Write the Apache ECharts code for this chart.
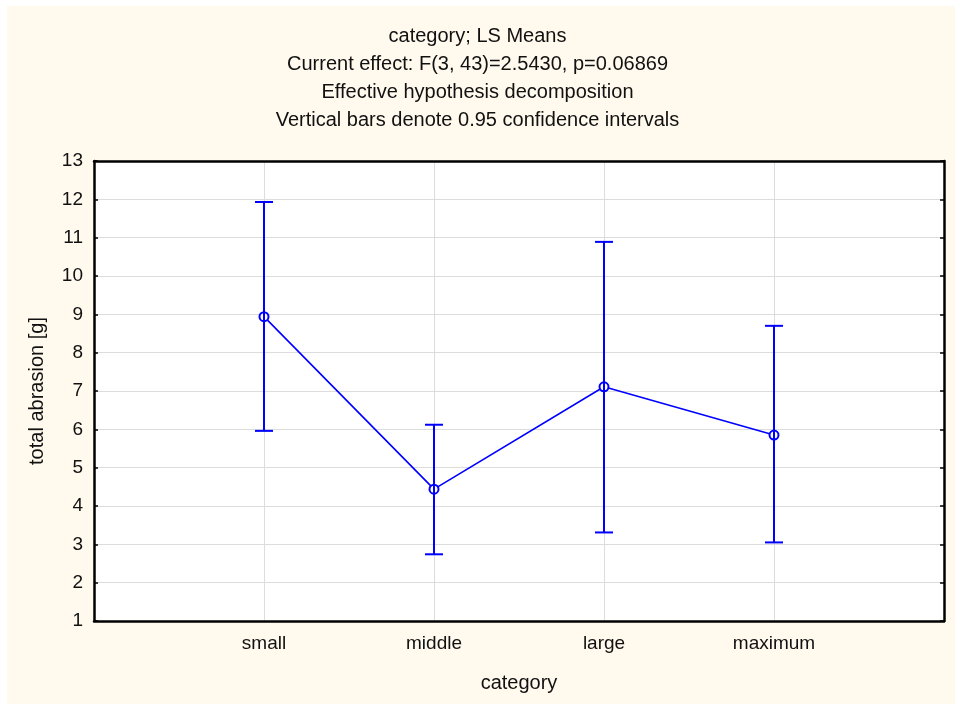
<!DOCTYPE html>
<html>
<head>
<meta charset="utf-8">
<title>category; LS Means</title>
<script src="https://cdn.jsdelivr.net/npm/echarts@6/dist/echarts.min.js"></script>
<style>
  html, body { margin: 0; padding: 0; background: #ffffff; }
  #chart { width: 955px; height: 704px; }
</style>
</head>
<body>
<div id="chart"></div>
<script>
// LS means of total abrasion per category, with 0.95 confidence limits
const categories = ['small', 'middle', 'large', 'maximum'];
const means = [8.94, 4.44, 7.11, 5.85];
const lowerCI = [5.96, 2.74, 3.31, 3.05];
const upperCI = [11.93, 6.12, 10.89, 8.70];
const yTicks = { min: 1, max: 13, interval: 1 };

const titleLines = [
  'category; LS Means',
  'Current effect: F(3, 43)=2.5430, p=0.06869',
  'Effective hypothesis decomposition',
  'Vertical bars denote 0.95 confidence intervals'
];

const FONT = '"Liberation Sans", Arial, sans-serif';
const BLUE = '#0000ff';
const TEXT = '#111111';

const meanPoints = means.map((m, i) => [i + 1, m]);
const ciPoints = categories.map((c, i) => [i + 1, lowerCI[i], upperCI[i]]);

const frameLine = { show: true, onZero: false, lineStyle: { color: '#000', width: 2.5 } };
const innerTick = { show: true, inside: true, length: 4, lineStyle: { color: '#000', width: 1.5 } };

const chart = echarts.init(document.getElementById('chart'), null, { renderer: 'canvas' });

chart.setOption({
  backgroundColor: '#ffffff',
  animation: false,
  graphic: [{
    type: 'rect',
    left: 7, top: 6,
    shape: { width: 948, height: 698 },
    style: { fill: '#fff9ee' },
    z: -10
  }],
  title: {
    text: titleLines.join('\n'),
    left: 'center',
    top: 17,
    textStyle: {
      fontFamily: FONT,
      fontSize: 20,
      fontWeight: 'normal',
      color: TEXT,
      lineHeight: 28
    }
  },
  grid: {
    left: 94, right: 11, top: 161, bottom: 83,
    show: true,
    backgroundColor: '#ffffff',
    borderWidth: 0
  },
  xAxis: [{
    type: 'value',
    position: 'bottom',
    min: 0, max: categories.length + 1, interval: 1,
    name: 'category',
    nameLocation: 'middle',
    nameGap: 52,
    nameTextStyle: { fontFamily: FONT, fontSize: 20, color: TEXT },
    axisLine: frameLine,
    axisTick: { show: false },
    axisLabel: {
      margin: 13,
      fontFamily: FONT, fontSize: 19, color: TEXT,
      formatter: v => categories[v - 1] || ''
    },
    splitLine: { show: true, lineStyle: { color: '#dcdcdc', width: 1 } }
  }, {
    type: 'value',
    position: 'top',
    min: 0, max: categories.length + 1, interval: 1,
    axisLine: frameLine,
    axisTick: { show: false },
    axisLabel: { show: false },
    splitLine: { show: false }
  }],
  yAxis: [{
    type: 'value',
    position: 'left',
    min: yTicks.min, max: yTicks.max, interval: yTicks.interval,
    name: 'total abrasion [g]',
    nameLocation: 'middle',
    nameGap: 47,
    nameTextStyle: { fontFamily: FONT, fontSize: 20, color: TEXT },
    axisLine: frameLine,
    axisTick: innerTick,
    axisLabel: { margin: 11, fontFamily: FONT, fontSize: 19, color: TEXT },
    splitLine: { show: true, lineStyle: { color: '#dcdcdc', width: 1 } }
  }, {
    type: 'value',
    position: 'right',
    min: yTicks.min, max: yTicks.max, interval: yTicks.interval,
    axisLine: frameLine,
    axisTick: innerTick,
    axisLabel: { show: false },
    splitLine: { show: false }
  }],
  series: [{
    type: 'line',
    data: meanPoints,
    symbol: 'emptyCircle',
    symbolSize: 9,
    lineStyle: { color: BLUE, width: 1.6 },
    itemStyle: { color: BLUE, borderColor: BLUE, borderWidth: 1.6 },
    z: 3
  }, {
    type: 'custom',
    data: ciPoints,
    z: 4,
    renderItem: function (params, api) {
      const x = api.value(0);
      const lo = api.coord([x, api.value(1)]);
      const hi = api.coord([x, api.value(2)]);
      const half = 9;
      const style = { stroke: BLUE, lineWidth: 2 };
      return {
        type: 'group',
        children: [
          { type: 'line', shape: { x1: lo[0], y1: lo[1], x2: hi[0], y2: hi[1] }, style: style },
          { type: 'line', shape: { x1: hi[0] - half, y1: hi[1], x2: hi[0] + half, y2: hi[1] }, style: style },
          { type: 'line', shape: { x1: lo[0] - half, y1: lo[1], x2: lo[0] + half, y2: lo[1] }, style: style }
        ]
      };
    }
  }]
});
</script>
</body>
</html>
